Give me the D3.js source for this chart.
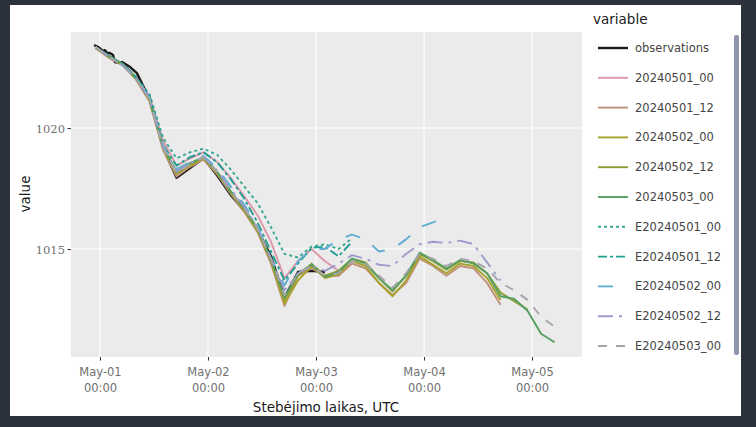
<!DOCTYPE html>
<html><head><meta charset="utf-8">
<script src="https://cdn.jsdelivr.net/npm/d3@7/dist/d3.min.js"></script>
<style>
html,body{margin:0;padding:0;background:#2c323c;}
svg{display:block;}
</style></head>
<body>
<svg id="chart" width="756" height="427"></svg>
<script>
// hours relative to 2024-05-01 00:00 UTC
const obsHours = [-1.3,-0.4,0.2,0.7,1.1,1.6,2.2,2.9,3.3,4.4,4.9,6.7,8.2,11,14,17,20,23,26,29,32,35,38,41,44,47,50];
const observations = [1023.43,1023.35,1023.26,1023.18,1023.22,1023.1,1023.1,1023.02,1022.73,1022.69,1022.73,1022.52,1022.27,1021.2,1019.2,1017.95,1018.35,1018.75,1018.05,1017.25,1016.6,1015.8,1014.7,1013.0,1014.05,1014.1,1014.05];
// forecast runs, 3-hour steps
const hours = [-1,2,5,8,11,14,17,20,23,26,29,32,35,38,41,44,47,50,53,56,59,62,65,68,71,74,77,80,83,86,89,92,95,98,101];
const seriesNames = ["observations","20240501_00","20240501_12","20240502_00","20240502_12","20240503_00",
  "E20240501_00","E20240501_12","E20240502_00","E20240502_12","E20240503_00"];
const _ = null;
const f20240501_00 = [1023.35,1022.95,1022.65,1022.1,1021.3,1019.5,1018.45,1018.75,1019.0,1018.6,1017.95,1017.2,1016.4,1015.3,1013.8,1014.5,1015.0,1014.5,1014.1,_,_,_,_,_,_,_,_,_,_,_,_,_,_,_,_];
const f20240501_12 = [1023.3,1022.9,1022.6,1022.0,1021.1,1019.1,1018.0,1018.4,1018.7,1018.1,1017.3,1016.55,1015.7,1014.4,1012.65,1013.9,1014.2,1013.9,1013.9,1014.4,1014.2,1013.6,1013.1,1013.6,1014.6,1014.3,1013.9,1014.3,1014.2,1013.6,1012.7,_,_,_,_];
const f20240502_00 = [1023.3,1022.95,1022.6,1022.05,1021.15,1019.15,1018.1,1018.45,1018.75,1018.15,1017.35,1016.6,1015.75,1014.5,1012.75,1013.7,1014.3,1013.8,1013.95,1014.5,1014.3,1013.6,1013.05,1013.7,1014.7,1014.35,1014.0,1014.4,1014.3,1013.8,1012.9,_,_,_,_];
const f20240502_12 = [1023.35,1022.95,1022.65,1022.05,1021.2,1019.2,1018.15,1018.5,1018.8,1018.2,1017.4,1016.65,1015.8,1014.55,1012.9,1013.9,1014.4,1013.9,1014.1,1014.6,1014.45,1013.8,1013.25,1013.9,1014.8,1014.5,1014.15,1014.5,1014.45,1014.0,1013.2,1012.85,1012.5,_,_];
const f20240503_00 = [1023.35,1023.0,1022.65,1022.1,1021.2,1019.25,1018.2,1018.55,1018.8,1018.2,1017.4,1016.7,1015.85,1014.6,1013.0,1014.0,1014.35,1013.85,1014.05,1014.6,1014.4,1013.8,1013.3,1013.9,1014.85,1014.55,1014.2,1014.55,1014.4,1014.0,1013.05,1012.95,1012.45,1011.5,1011.15];
const e20240501_00 = [1023.35,1022.95,1022.65,1022.1,1021.4,1019.6,1018.75,1019.0,1019.15,1018.9,1018.3,1017.6,1016.9,1015.9,1014.8,1014.65,1015.1,1015.2,1015.0,1015.45,_,_,_,_,_,_,_,_,_,_,_,_,_,_,_];
const e20240501_12 = [1023.35,1022.95,1022.65,1022.1,1021.35,1019.3,1018.45,1018.8,1019.0,1018.6,1017.9,1017.1,1016.1,1014.9,1013.7,1014.4,1015.05,1015.1,1014.7,1015.3,_,_,_,_,_,_,_,_,_,_,_,_,_,_,_];
const e20240502_00 = [1023.35,1022.95,1022.6,1022.05,1021.25,1019.25,1018.3,1018.6,1018.85,1018.35,1017.6,1016.85,1015.95,1014.6,1013.5,1014.5,1015.0,1015.0,1015.4,1015.6,1015.4,1014.9,1015.0,1015.4,1015.9,1016.1,1016.3,_,_,_,_,_,_,_,_];
const e20240502_12 = [1023.35,1022.95,1022.6,1022.05,1021.2,1019.2,1018.2,1018.55,1018.8,1018.25,1017.5,1016.75,1015.9,1014.6,1013.3,1014.0,1014.3,1014.1,1014.4,1014.75,1014.6,1014.35,1014.3,1014.8,1015.2,1015.3,1015.25,1015.35,1015.2,1014.45,1013.7,_,_,_,_];
const e20240503_00 = [1023.35,1022.95,1022.6,1022.05,1021.2,1019.2,1018.15,1018.5,1018.8,1018.2,1017.4,1016.7,1015.85,1014.6,1013.1,1014.0,1014.3,1013.9,1014.0,1014.5,1014.4,1013.9,1013.4,1014.0,1014.8,1014.6,1014.3,1014.6,1014.5,1014.2,1013.6,1013.3,1012.9,1012.2,1011.8];
const seriesValues = [observations,f20240501_00,f20240501_12,f20240502_00,f20240502_12,f20240503_00,
  e20240501_00,e20240501_12,e20240502_00,e20240502_12,e20240503_00];
const seriesColors = ["#1a1a1a","#dc97a9","#c0907a","#a6a22a","#8e9e34","#55a060",
  "#36a894","#1f9e92","#62aed0","#9c9ccc","#a8a4ae"];
const seriesDash = ["solid","solid","solid","solid","solid","solid","dot","dashdot","longdash","longdashdot","dash"];
const seriesWidth = [2.4,1.9,1.9,1.9,1.9,1.9,1.9,1.9,1.9,1.9,1.9];
const xTickDays = ["2024-05-01","2024-05-02","2024-05-03","2024-05-04","2024-05-05"];
const yTicks = [1015,1020];

const base = Date.UTC(2024,4,1);
const toDate = h => new Date(base + h*3600e3);
const svg = d3.select("#chart");
// frame
svg.append("rect").attr("x",0).attr("y",0).attr("width",756).attr("height",427).attr("fill","#2c323c");
svg.append("rect").attr("x",10).attr("y",5).attr("width",731).attr("height",411).attr("fill","#ffffff");
svg.append("rect").attr("x",734).attr("y",35).attr("width",5).attr("height",320).attr("rx",2).attr("fill","#8e96ae");

const L=71,R=582,T=32,B=357;
const x = d3.scaleUtc().domain([toDate(-6.44),toDate(107.1)]).range([L,R]);
const y = d3.scaleLinear().domain([1010.54,1023.97]).range([B,T]);

svg.append("rect").attr("x",L).attr("y",T).attr("width",R-L).attr("height",B-T).attr("fill","#ebebeb");
svg.append("clipPath").attr("id","clip").append("rect").attr("x",L).attr("y",T).attr("width",R-L).attr("height",B-T);

const xt = xTickDays.map(s=>new Date(s+"T00:00:00Z"));
svg.append("g").selectAll("line").data(xt).join("line")
  .attr("x1",d=>x(d)).attr("x2",d=>x(d)).attr("y1",T).attr("y2",B)
  .attr("stroke","#fff").attr("stroke-width",1.1);
svg.append("g").selectAll("line").data(yTicks).join("line")
  .attr("y1",d=>y(d)).attr("y2",d=>y(d)).attr("x1",L).attr("x2",R)
  .attr("stroke","#fff").attr("stroke-width",1.1);

const fmt1 = d3.utcFormat("%b-%d"), fmt2 = d3.utcFormat("%H:%M");
const xAxis = svg.append("g").attr("transform",`translate(0,${B})`)
  .call(d3.axisBottom(x).tickValues(xt).tickSize(3.6).tickFormat(""));
xAxis.select(".domain").remove();
xAxis.selectAll("line").attr("stroke","#333").attr("stroke-width",1);
xAxis.selectAll(".tick").each(function(d){
  const t = d3.select(this).append("text").attr("fill","#707070").attr("text-anchor","middle")
    .style("font-family","DejaVu Sans, Verdana, sans-serif").style("font-size","11.5px");
  t.append("tspan").attr("x",0).attr("y",19).text(fmt1(d));
  t.append("tspan").attr("x",0).attr("y",35).text(fmt2(d));
});
const yAxis = svg.append("g").attr("transform",`translate(${L},0)`)
  .call(d3.axisLeft(y).tickValues(yTicks).tickSize(3.6).tickFormat(d3.format("d")));
yAxis.select(".domain").remove();
yAxis.selectAll("line").attr("stroke","#333");
yAxis.selectAll("text").attr("fill","#707070").attr("x",-6).attr("dy","0.35em")
  .style("font-family","DejaVu Serif, serif").style("font-size","11.5px");

svg.append("text").attr("x",326).attr("y",412).attr("text-anchor","middle").attr("fill","#1a1a1a")
  .style("font-family","DejaVu Sans, Verdana, sans-serif").style("font-size","13.5px").text("Stebėjimo laikas, UTC");
svg.append("text").attr("transform","translate(30,194) rotate(-90)").attr("text-anchor","middle").attr("fill","#1a1a1a")
  .style("font-family","DejaVu Sans, Verdana, sans-serif").style("font-size","13.5px").text("value");

function dashArr(dash,w){
  const d = Math.max(w,3);
  switch(dash){
    case "dot": return `${d},${d}`;
    case "dash": return `${3*d},${3*d}`;
    case "longdash": return `${5*d},${5*d}`;
    case "dashdot": return `${3*d},${d},${d},${d}`;
    case "longdashdot": return `${5*d},${2*d},${d},${2*d}`;
    default: return null;
  }
}
const line = d3.line().defined(d=>d.v!=null).x(d=>x(d.t)).y(d=>y(d.v));
const gLines = svg.append("g").attr("clip-path","url(#clip)");
seriesNames.forEach((name,i)=>{
  const hs = i===0 ? obsHours : hours;
  const data = hs.map((h,j)=>({t:toDate(h),v:seriesValues[i][j]}));
  gLines.append("path").datum(data).attr("d",line).attr("fill","none")
    .attr("stroke",seriesColors[i]).attr("stroke-width",seriesWidth[i])
    .attr("stroke-linejoin","round")
    .attr("stroke-dasharray",dashArr(seriesDash[i],seriesWidth[i]));
});

const lg = svg.append("g");
lg.append("text").attr("x",593).attr("y",24).attr("fill","#1a1a1a")
  .style("font-family","DejaVu Sans, Verdana, sans-serif").style("font-size","13.5px").text("variable");
seriesNames.forEach((name,i)=>{
  const yy = 48 + i*29.8;
  lg.append("line").attr("x1",598).attr("x2",628).attr("y1",yy).attr("y2",yy)
    .attr("stroke",seriesColors[i]).attr("stroke-width",seriesWidth[i])
    .attr("stroke-dasharray",dashArr(seriesDash[i],seriesWidth[i]));
  lg.append("text").attr("x",635).attr("y",yy).attr("dy","0.35em").attr("fill","#444")
    .style("font-family","DejaVu Sans, Verdana, sans-serif").style("font-size","11.5px").text(name);
});
</script>
</body></html>
